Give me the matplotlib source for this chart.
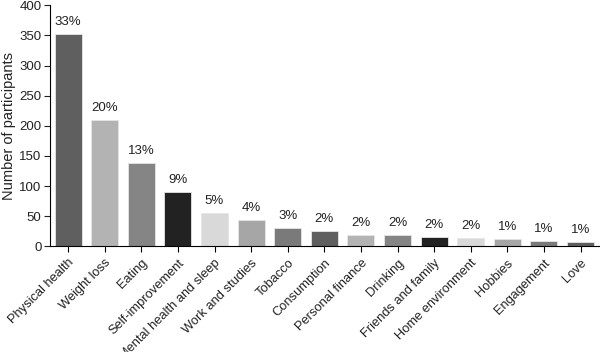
import matplotlib.pyplot as plt

categories = ['Physical health', 'Weight loss', 'Eating', 'Self-improvement',
              'Mental health and sleep', 'Work and studies', 'Tobacco', 'Consumption',
              'Personal finance', 'Drinking', 'Friends and family', 'Home environment',
              'Hobbies', 'Engagement', 'Love']
counts = [352, 209, 139, 90, 56, 43, 31, 25, 19, 19, 16, 14, 12, 9, 8]
percents = ['33%', '20%', '13%', '9%', '5%', '4%', '3%', '2%', '2%', '2%', '2%', '2%', '1%', '1%', '1%']
shades = ['#5f5f5f', '#b3b3b3', '#858585', '#222222', '#d9d9d9', '#a6a6a6', '#7a7a7a']

plt.rcParams['font.family'] = ['Liberation Sans', 'DejaVu Sans']

fig, ax = plt.subplots(figsize=(6, 3.52), dpi=100)
fig.subplots_adjust(left=0.083, right=0.998, top=0.985, bottom=0.30)

colors = [shades[i % len(shades)] for i in range(len(categories))]
x = range(len(categories))
ax.bar(x, counts, width=0.74, color=colors, edgecolor='#e6e6e6', linewidth=0.6)

for xi, v, p in zip(x, counts, percents):
    ax.text(xi, v + 10, p, ha='center', va='bottom', fontsize=9.5, color='#222222')

ax.set_xlim(-0.5, len(categories) - 0.5)
ax.set_ylim(0, 400)
ax.set_yticks(range(0, 401, 50))
ax.set_xticks(list(x))
ax.set_xticklabels(categories, rotation=45, ha='right', rotation_mode='anchor', fontsize=9.3, color='#222222')
ax.tick_params(axis='y', labelsize=9.5, colors='#222222', length=4, pad=2)
ax.tick_params(axis='x', length=4)
ax.set_ylabel('Number of participants', fontsize=10.5, color='#222222')
ax.yaxis.set_label_coords(-0.062, 0.5)

ax.spines['top'].set_visible(False)
ax.spines['right'].set_visible(False)

plt.savefig('out.png')
